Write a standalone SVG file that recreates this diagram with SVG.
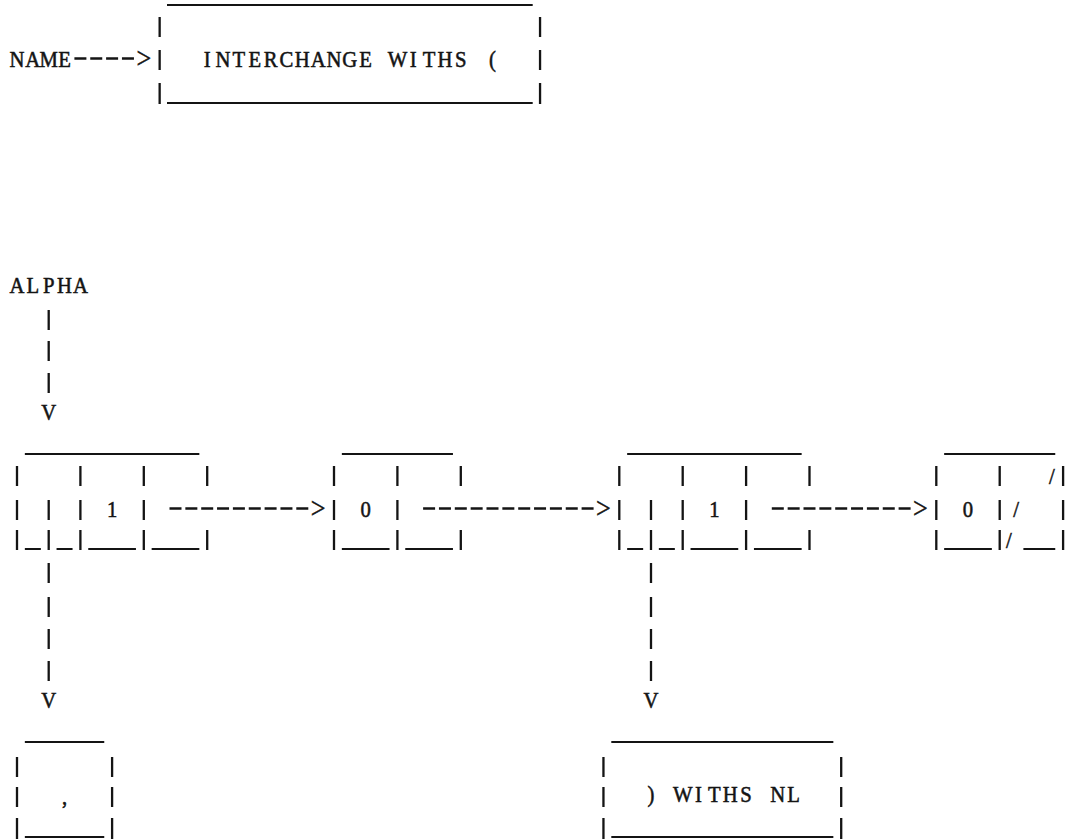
<svg xmlns="http://www.w3.org/2000/svg" width="1067" height="839" viewBox="0 0 1067 839">
<defs>
<style>
.t{font-family:"Liberation Serif","Times New Roman",serif;font-size:23px;fill:#141414;stroke:#141414;stroke-width:0.55;text-anchor:middle}
.a{font-family:"Liberation Serif","Times New Roman",serif;font-size:29px;fill:#141414;stroke:#141414;stroke-width:0.5;text-anchor:middle}
.b{stroke:#141414;stroke-width:2.3;fill:none}
.u{stroke:#141414;stroke-width:2;fill:none}
.d{stroke:#141414;stroke-width:2.5;fill:none;stroke-dasharray:12 3.85}
</style>
</defs>
<rect width="1067" height="839" fill="#ffffff"/>

<g id="node-name">
<text class="t" transform="scale(0.9 1)" x="18.89 36.5 54.11 71.72" y="67">NAME</text>
</g>

<g id="node-interchange">
<path class="b" d="M159.65 17V37M159.65 50V70M159.65 83V104M540.05 17V37M540.05 50V70M540.05 83V104"/>
<path class="u" d="M167 5H532.7M167 103H532.7"/>
<text class="t" transform="scale(0.9 1)" x="230.22 247.83 265.44 283.06 300.67 318.28 335.89 353.5 371.11 388.72 406.33 423.94 441.56 459.17 476.78 494.39 512 529.61 547.22" y="67">INTERCHANGE WITHS (</text>
</g>

<g id="node-alpha">
<text class="t" transform="scale(0.9 1)" x="18.89 36.5 54.11 71.72 89.33" y="293">ALPHA</text>
</g>

<g id="node-cell1">
<path class="u" d="M24.85 454H199.35M24.85 549H40.85M56.55 549H72.55M88.25 549H135.95M151.65 549H199.35"/>
<path class="b" d="M17 466V486M80.4 466V486M143.8 466V486M207.2 466V486M17 500V520M48.7 500V520M80.4 500V520M143.8 500V520M17 530V550M48.7 530V550M80.4 530V550M143.8 530V550M207.2 530V550"/>
<text class="t" transform="scale(0.9 1)" x="124.56" y="517">1</text>
</g>

<g id="node-cell2">
<path class="u" d="M341.85 454H452.95M341.85 549H389.55M405.25 549H452.95"/>
<path class="b" d="M334 466V486M397.4 466V486M460.8 466V486M334 500V520M397.4 500V520M334 530V550M397.4 530V550M460.8 530V550"/>
<text class="t" transform="scale(0.9 1)" x="406.33" y="517">0</text>
</g>

<g id="node-cell3">
<path class="u" d="M627.15 454H801.65M627.15 549H643.15M658.85 549H674.85M690.55 549H738.25M753.95 549H801.65"/>
<path class="b" d="M619.3 466V486M682.7 466V486M746.1 466V486M809.5 466V486M619.3 500V520M651 500V520M682.7 500V520M746.1 500V520M619.3 530V550M651 530V550M682.7 530V550M746.1 530V550M809.5 530V550"/>
<text class="t" transform="scale(0.9 1)" x="793.78" y="517">1</text>
</g>

<g id="node-cell4">
<path class="u" d="M944.15 454H1055.25M944.15 549H991.85M1023.4 549H1055.25"/>
<path class="b" d="M936.3 466V486M999.7 466V486M1063.1 466V486M936.3 500V520M999.7 500V520M1063.1 500V520M936.3 530V550M999.7 530V550M1063.1 530V550"/>
<text class="t" transform="scale(0.9 1)" x="1075.56" y="517">0</text>
<text class="t" transform="scale(0.9 1)" x="1168.89" y="484">/</text>
<text class="t" transform="scale(0.9 1)" x="1128.89" y="517">/</text>
<text class="t" transform="scale(0.9 1)" x="1121.11" y="548">/</text>
</g>

<g id="node-comma">
<path class="u" d="M24.85 742H104.25M24.85 837H104.25"/>
<path class="b" d="M17 757V777M112.1 757V777M17 787V807M112.1 787V807M17 818V839M112.1 818V839"/>
<text class="t" transform="scale(0.9 1)" x="71.72" y="804">,</text>
</g>

<g id="node-withs">
<path class="u" d="M611.3 742H833.35M611.3 837H833.35"/>
<path class="b" d="M603.45 757V777M841.2 757V777M603.45 787V807M841.2 787V807M603.45 818V839M841.2 818V839"/>
<text class="t" transform="scale(0.9 1)" x="723.33 740.94 758.56 776.17 793.78 811.39 829 846.61 864.22 881.83" y="802">) WITHS NL</text>
</g>

<g id="connectors">
<path class="d" d="M74.4 58.5H133.95"/>
<text class="a" transform="scale(0.9 1)" x="159.78" y="68">&gt;</text>

<path class="b" d="M48.7 310V330M48.7 341V361M48.7 373V393"/>
<text class="t" transform="scale(0.9 1)" x="54.11" y="420">V</text>

<path class="d" d="M169.5 508.5H308.3"/>
<text class="a" transform="scale(0.9 1)" x="353.5" y="518">&gt;</text>

<path class="d" d="M423.1 508.5H593.6"/>
<text class="a" transform="scale(0.9 1)" x="670.5" y="518">&gt;</text>

<path class="d" d="M771.8 508.5H910.6"/>
<text class="a" transform="scale(0.9 1)" x="1022.72" y="518">&gt;</text>

<path class="b" d="M48.7 563V583M48.7 597V617M48.7 629V649M48.7 661V681"/>
<text class="t" transform="scale(0.9 1)" x="54.11" y="708">V</text>

<path class="b" d="M651 563V583M651 597V617M651 629V649M651 661V681"/>
<text class="t" transform="scale(0.9 1)" x="723.33" y="708">V</text>
</g>
</svg>
